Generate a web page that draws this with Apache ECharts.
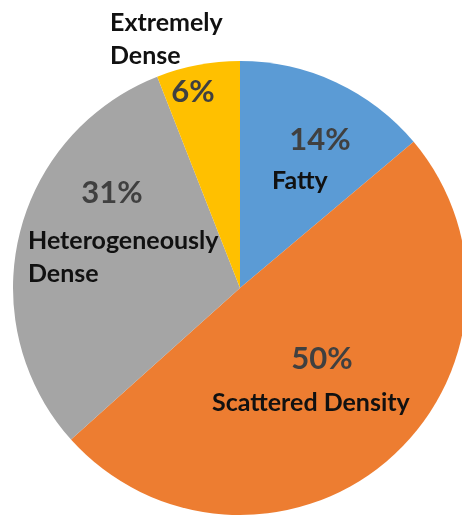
<!DOCTYPE html>
<html><head><meta charset="utf-8">
<script src="https://cdn.jsdelivr.net/npm/echarts@6/dist/echarts.min.js"></script>
<style>html,body{margin:0;padding:0;background:#fff}#c{width:462px;height:518px}</style>
</head><body><div id="c"></div>
<script>
const categories = ['Fatty', 'Scattered Density', 'Heterogeneously Dense', 'Extremely Dense'];
const values = [14, 50, 31, 6];
const nameLines = ['Fatty', 'Scattered Density', 'Heterogeneously\nDense', 'Extremely\nDense'];
const colors = ['#5b9bd5', '#ed7d31', '#a5a5a5', '#ffc000'];
const pctPos = [[320, 140], [322, 359], [112, 193], [193, 92]];
const namePos = [[272, 181], [212, 403], [28, 257], [110, 39]];
const FONT = 'Lato, "Open Sans", sans-serif';

const chart = echarts.init(document.getElementById('c'), null, {renderer: 'canvas'});
chart.setOption({
  animation: false,
  series: [{
    type: 'pie',
    center: [240, 288],
    radius: 227,
    startAngle: 90,
    clockwise: true,
    silent: true,
    data: categories.map((n, i) => ({name: n, value: values[i], itemStyle: {color: colors[i]}})),
    label: {
      show: true,
      position: 'inside',
      formatter: '{c}%',
      fontFamily: FONT,
      fontSize: 31,
      fontWeight: 'bold',
      color: '#404040'
    },
    labelLine: {show: false},
    labelLayout: function (p) {
      const q = pctPos[p.dataIndex];
      return {x: q[0], y: q[1], align: 'center', verticalAlign: 'middle'};
    }
  }],
  graphic: nameLines.map((t, i) => ({
    type: 'text',
    x: namePos[i][0],
    y: namePos[i][1],
    z: 100,
    zlevel: 1,
    style: {
      text: t,
      fontFamily: FONT,
      fontSize: 25,
      fontWeight: 'bold',
      fill: '#111111',
      align: 'left',
      verticalAlign: 'middle',
      lineHeight: 33
    }
  }))
});
</script></body></html>
